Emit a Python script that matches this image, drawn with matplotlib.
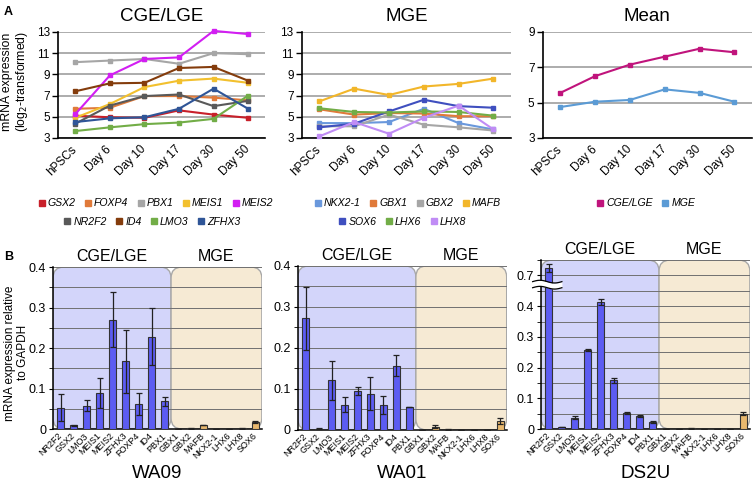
import numpy as np
import matplotlib.pyplot as plt
from matplotlib.lines import Line2D
from matplotlib.patches import FancyBboxPatch
from matplotlib.transforms import blended_transform_factory

plt.rcParams['font.family'] = ['Liberation Sans', 'DejaVu Sans']

# ---------------- panel A data (log2 expression) ----------------
days = ['hPSCs', 'Day 6', 'Day 10', 'Day 17', 'Day 30', 'Day 50']

cge_genes = ['GSX2', 'FOXP4', 'PBX1', 'MEIS1', 'MEIS2', 'NR2F2', 'ID4', 'LMO3', 'ZFHX3']
cge_colors = ['#c8202a', '#e07a3a', '#a6a6a6', '#f2c02e', '#d21ef2',
              '#595959', '#843c0c', '#72ad47', '#2f5597']
gsx2 = [5.1, 4.95, 4.9, 5.6, 5.2, 4.9]
foxp4 = [5.75, 5.85, 6.95, 6.95, 6.8, 6.55]
pbx1 = [10.15, 10.3, 10.45, 10.0, 11.0, 10.9]
meis1 = [4.9, 6.2, 7.8, 8.4, 8.6, 8.2]
meis2 = [5.25, 8.9, 10.45, 10.6, 13.1, 12.8]
nr2f2 = [4.35, 6.05, 6.95, 7.1, 6.0, 6.5]
id4 = [7.4, 8.15, 8.2, 9.6, 9.7, 8.4]
lmo3 = [3.65, 4.0, 4.3, 4.45, 4.8, 7.0]
zfhx3 = [4.5, 4.85, 4.95, 5.75, 7.65, 5.75]

mge_genes = ['NKX2-1', 'GBX1', 'GBX2', 'MAFB', 'SOX6', 'LHX6', 'LHX8']
mge_colors = ['#6a98dc', '#e07a3a', '#a6a6a6', '#f2b62a', '#3f4fbf', '#72ad47', '#c08cf5']
nkx21 = [4.4, 4.4, 4.5, 5.75, 4.4, 3.8]
gbx1 = [5.7, 5.2, 5.35, 5.3, 5.05, 5.05]
gbx2 = [4.1, 4.1, 5.2, 4.25, 4.0, 3.7]
mafb = [6.45, 7.65, 7.05, 7.85, 8.1, 8.6]
sox6 = [4.0, 4.35, 5.5, 6.6, 6.0, 5.85]
lhx6 = [5.8, 5.45, 5.4, 5.5, 5.45, 5.1]
lhx8 = [3.15, 4.5, 3.4, 4.9, 6.05, 3.8]

mean_groups = ['CGE/LGE', 'MGE']
mean_colors = ['#c0147c', '#5b9bd5']
mean_cge = [5.55, 6.5, 7.15, 7.6, 8.05, 7.85]
mean_mge = [4.75, 5.05, 5.15, 5.75, 5.55, 5.05]

# ---------------- panel B data (relative to GAPDH) ----------------
bar_genes = ['NR2F2', 'GSX2', 'LMO3', 'MEIS1', 'MEIS2', 'ZFHX3', 'FOXP4', 'ID4', 'PBX1',
             'GBX1', 'GBX2', 'MAFB', 'NKX2-1', 'LHX6', 'LHX8', 'SOX6']
n_cge = 9

wa09 = [0.053, 0.009, 0.058, 0.09, 0.27, 0.167, 0.062, 0.228, 0.068,
        0.0, 0.002, 0.01, 0.0, 0.001, 0.002, 0.018]
wa09_err = [0.033, 0.002, 0.014, 0.037, 0.068, 0.077, 0.027, 0.07, 0.01,
            0.0, 0.001, 0.001, 0.0, 0.0, 0.001, 0.003]
wa01 = [0.272, 0.003, 0.121, 0.062, 0.095, 0.088, 0.06, 0.157, 0.056,
        0.001, 0.008, 0.002, 0.0, 0.001, 0.0, 0.022]
wa01_err = [0.076, 0.001, 0.048, 0.018, 0.01, 0.04, 0.022, 0.026, 0.001,
            0.0, 0.003, 0.001, 0.0, 0.0, 0.0, 0.008]
ds2u = [0.724, 0.006, 0.037, 0.257, 0.413, 0.158, 0.053, 0.043, 0.024,
        0.0, 0.0, 0.002, 0.0, 0.0, 0.0, 0.05]
ds2u_err = [0.012, 0.001, 0.004, 0.004, 0.01, 0.007, 0.004, 0.004, 0.003,
            0.0, 0.0, 0.001, 0.0, 0.0, 0.0, 0.005]

# broken axis for DS2U: values above the break are shifted down
break_at = 0.45
break_shift = 0.2

fig = plt.figure(figsize=(7.54, 4.84), dpi=100)

ax1 = fig.add_axes([0.077, 0.715, 0.275, 0.219])
ax2 = fig.add_axes([0.4005, 0.715, 0.277, 0.219])
ax3 = fig.add_axes([0.720, 0.715, 0.277, 0.219])


def line_panel(ax, series, colors, ymin, ymax, title):
    x = np.arange(len(days))
    for vals, c in zip(series, colors):
        ax.plot(x, vals, color=c, lw=1.5, marker='s', ms=3.2, zorder=3, clip_on=False)
    ax.set_xlim(-0.5, len(days) - 0.5)
    ax.set_ylim(ymin, ymax)
    ax.set_yticks(np.arange(ymin, ymax + 1, 2))
    ax.yaxis.grid(True, color='#a6a6a6', lw=1.3)
    ax.set_axisbelow(True)
    ax.set_xticks(x)
    ax.set_xticklabels(days, rotation=45, ha='right', va='center',
                       rotation_mode='anchor', fontsize=8.5)
    ax.tick_params(axis='x', length=0, pad=7)
    ax.tick_params(axis='y', length=4, labelsize=8.5, width=1, pad=2)
    ax.spines['top'].set_visible(False)
    ax.spines['right'].set_visible(False)
    ax.spines['left'].set_linewidth(1.2)
    ax.spines['bottom'].set_linewidth(1.2)
    ax.set_title(title, fontsize=13.5, pad=8)


line_panel(ax1, [gsx2, foxp4, pbx1, meis1, meis2, nr2f2, id4, lmo3, zfhx3],
           cge_colors, 3, 13, 'CGE/LGE')
line_panel(ax2, [nkx21, gbx1, gbx2, mafb, sox6, lhx6, lhx8],
           mge_colors, 3, 13, 'MGE')
line_panel(ax3, [mean_cge, mean_mge], mean_colors, 3, 9, 'Mean')
ax1.text(-0.205, 0.53, 'mRNA expression\n(log$_2$-transformed)', transform=ax1.transAxes,
         rotation=90, ha='center', va='center', fontsize=8.8, linespacing=1.15)


def legend_row(names, colors, x, y):
    handles = [Line2D([], [], marker='s', color=c, linestyle='none', markersize=4)
               for c in colors]
    fig.legend(handles, names, loc='center', bbox_to_anchor=(x, y), ncol=len(names),
               frameon=False, prop=dict(style='italic', size=7.6), handlelength=0.6,
               handletextpad=0.25, columnspacing=0.9, borderpad=0, borderaxespad=0)


legend_row(cge_genes[:5], cge_colors[:5], 0.207, 0.580)
legend_row(cge_genes[5:], cge_colors[5:], 0.202, 0.541)
legend_row(mge_genes[:4], mge_colors[:4], 0.541, 0.580)
legend_row(mge_genes[4:], mge_colors[4:], 0.534, 0.541)
legend_row(mean_groups, mean_colors, 0.857, 0.580)

# ---------------- panel B ----------------
bx1 = fig.add_axes([0.0703, 0.1136, 0.277, 0.3347])
bx2 = fig.add_axes([0.395, 0.1116, 0.277, 0.339])
bx3 = fig.add_axes([0.7175, 0.1136, 0.277, 0.349])

bar_colors = ['#5c5cf2' if i < n_cge else '#e8b86e' for i in range(len(bar_genes))]
xlim = (-0.6, 15.5)


def region_box(ax, x0, x1, color, label):
    trans = blended_transform_factory(ax.transData, ax.transAxes)
    bb = ax.get_window_extent()
    xpx = bb.width / (xlim[1] - xlim[0])
    r = 11 / xpx
    box = FancyBboxPatch((x0, 0), x1 - x0, 1,
                         boxstyle='round,pad=0,rounding_size=%f' % r,
                         mutation_aspect=xpx / bb.height, transform=trans,
                         facecolor=color, edgecolor='#a8a8a8', lw=1.0, zorder=0.2)
    ax.add_patch(box)
    ax.text((x0 + x1) / 2, 1.02, label, transform=trans, ha='center', va='bottom',
            fontsize=11.5)


def bar_panel(ax, vals, errs, ymax, name):
    x = np.arange(len(bar_genes))
    ax.set_xlim(*xlim)
    ax.set_ylim(0, ymax)
    region_box(ax, xlim[0], n_cge - 0.5, '#d3d5fa', 'CGE/LGE')
    region_box(ax, n_cge - 0.5, xlim[1], '#f6ead4', 'MGE')
    ax.bar(x, vals, width=0.55, color=bar_colors, edgecolor='#333333', lw=0.8, zorder=3)
    ax.errorbar(x, vals, yerr=errs, fmt='none', ecolor='#222222', elinewidth=0.9,
                capsize=2.2, capthick=0.9, zorder=4)
    ax.set_yticks(np.arange(0, ymax + 0.01, 0.05), minor=True)
    ax.yaxis.grid(True, which='both', color='#707070', lw=0.7)
    ax.set_axisbelow(True)
    ax.set_xticks(x)
    ax.set_xticklabels(bar_genes, rotation=45, ha='right', va='center',
                       rotation_mode='anchor', fontsize=6.5)
    ax.tick_params(axis='x', length=0, pad=4)
    ax.tick_params(axis='y', which='both', length=3, labelsize=9, pad=2)
    ax.spines['top'].set_visible(False)
    ax.spines['right'].set_visible(False)
    ax.spines['left'].set_linewidth(1.1)
    ax.spines['bottom'].set_linewidth(1.1)
    ax.spines['left'].set_zorder(5)
    # sample name under the panel
    bb = ax.get_window_extent()
    ax.text(0.5, -44 / bb.height, name, transform=ax.transAxes, ha='center',
            va='center', fontsize=13.5)


bar_panel(bx1, wa09, wa09_err, 0.4, 'WA09')
bar_panel(bx2, wa01, wa01_err, 0.4, 'WA01')
for ax in (bx1, bx2):
    ax.set_yticks([0, 0.1, 0.2, 0.3, 0.4])
    ax.set_yticklabels(['0', '0.1', '0.2', '0.3', '0.4'])

ds2u_plot = [v - break_shift if v > break_at else v for v in ds2u]
bar_panel(bx3, ds2u_plot, ds2u_err, 0.55, 'DS2U')
bx3.set_yticks([0, 0.1, 0.2, 0.3, 0.4, 0.5])
bx3.set_yticklabels(['0', '0.1', '0.2', '0.3', '0.4', '0.7'])

# axis break mark on DS2U
t = np.linspace(-0.04, 0.1, 60)
wave = 0.008 * np.sin((t + 0.04) / 0.14 * 2 * np.pi)
ybrk = (break_at + 0.02) / 0.55
bx3.fill_between(t, ybrk - 0.018 + wave, ybrk + 0.018 + wave, color='white',
                 transform=bx3.transAxes, clip_on=False, zorder=6, lw=0)
bx3.plot(t, ybrk - 0.018 + wave, color='black', lw=0.9, transform=bx3.transAxes,
         clip_on=False, zorder=7)
bx3.plot(t, ybrk + 0.018 + wave, color='black', lw=0.9, transform=bx3.transAxes,
         clip_on=False, zorder=7)

bx1.text(-0.175, 0.47, 'mRNA expression relative\nto GAPDH', transform=bx1.transAxes,
         rotation=90, ha='center', va='center', fontsize=8.5, linespacing=1.15)

fig.text(0.005, 0.975, 'A', fontsize=9, fontweight='bold', va='center')
fig.text(0.005, 0.47, 'B', fontsize=9, fontweight='bold', va='center')

fig.savefig('out.png', dpi=100)
